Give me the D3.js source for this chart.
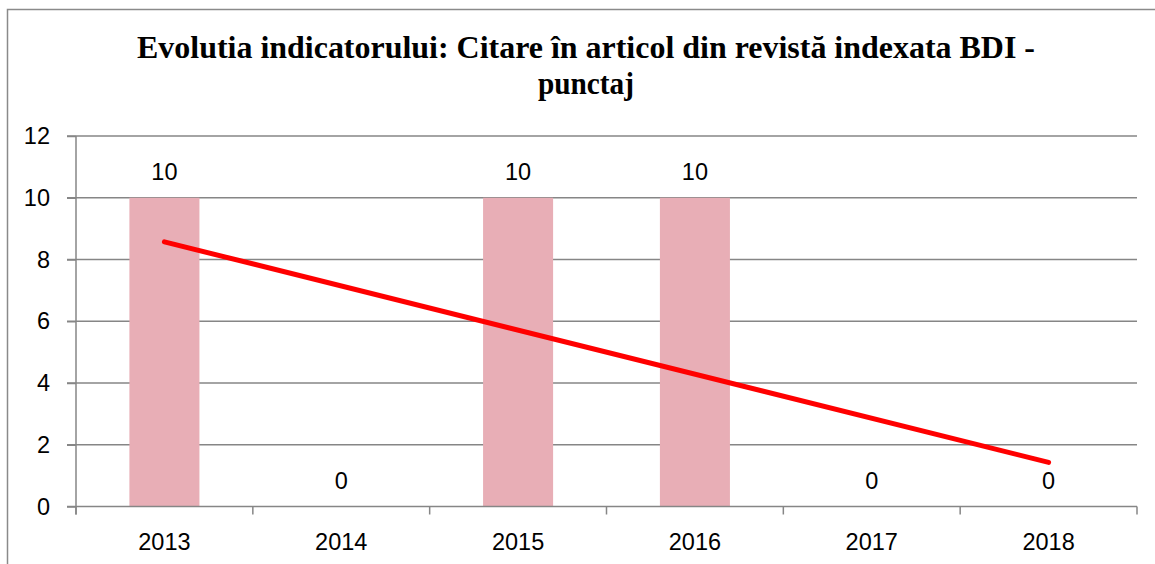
<!doctype html>
<html>
<head>
<meta charset="utf-8" />
<title>Evolutia indicatorului</title>
<script src="https://cdn.jsdelivr.net/npm/d3@7"></script>
<style>
  body { margin: 0; background: #fff; }
  svg { display: block; }
</style>
</head>
<body>
<svg id="chart" width="1155" height="564"></svg>
<script>
// data
var years = ['2013', '2014', '2015', '2016', '2017', '2018'];
var scores = [10, 0, 10, 10, 0, 0];
var yTicks = [0, 2, 4, 6, 8, 10, 12];
var titleLines = ['Evolutia indicatorului: Citare în articol din revistă indexata BDI -', 'punctaj'];

var svg = d3.select('#chart');
var margin = {left: 76, right: 18, top: 136, bottom: 57.5};
var width = 1155 - margin.left - margin.right;
var height = 564 - margin.top - margin.bottom;
var gridColor = '#868686';
var font = '"Liberation Sans", Arial, sans-serif';

// outer chart border (runs off the right / bottom edge like the original)
svg.append('rect')
    .attr('x', 7.5).attr('y', 9.5)
    .attr('width', 1160).attr('height', 570)
    .attr('fill', 'none')
    .attr('stroke', '#8a8a8a')
    .attr('stroke-width', 1.5);

// title
svg.selectAll('text.title')
    .data(titleLines)
    .enter()
    .append('text')
    .attr('class', 'title')
    .attr('x', 586)
    .attr('y', function(d, i) { return 58 + i * 36; })
    .attr('text-anchor', 'middle')
    .attr('font-family', '"Liberation Serif", "Times New Roman", serif')
    .attr('font-weight', 'bold')
    .attr('font-size', 32.5)
    .attr('textLength', function(d, i) { return i === 0 ? 898 : 96; })
    .attr('lengthAdjust', 'spacingAndGlyphs')
    .text(function(d) { return d; });

var g = svg.append('g').attr('transform', 'translate(' + margin.left + ',' + margin.top + ')');

var x = d3.scaleBand().domain(years).range([0, width]).paddingInner(0.604).paddingOuter(0.302);
var xBounds = d3.scaleLinear().domain([0, years.length]).range([0, width]);
var y = d3.scaleLinear().domain([0, 12]).range([height, 0]);

// gridlines
g.selectAll('line.grid')
    .data(yTicks.filter(function(d) { return d > 0; }))
    .enter()
    .append('line')
    .attr('class', 'grid')
    .attr('x1', -9).attr('x2', width)
    .attr('y1', function(d) { return y(d); })
    .attr('y2', function(d) { return y(d); })
    .attr('stroke', gridColor)
    .attr('stroke-width', 1.5);

// y axis
var yAxis = g.append('g')
    .call(d3.axisLeft(y).tickValues(yTicks).tickSize(9).tickPadding(17));
yAxis.select('.domain').attr('stroke', gridColor).attr('stroke-width', 1.5)
    .attr('d', 'M0,' + (height + 8) + 'V0');
yAxis.selectAll('.tick line').attr('stroke', gridColor).attr('stroke-width', 1.5);
yAxis.selectAll('.tick text')
    .attr('font-family', font).attr('font-size', 23.5).attr('fill', '#000');

// bars
g.selectAll('rect.bar')
    .data(scores)
    .enter()
    .append('rect')
    .attr('class', 'bar')
    .attr('x', function(d, i) { return x(years[i]); })
    .attr('width', x.bandwidth())
    .attr('y', function(d) { return y(d); })
    .attr('height', function(d) { return height - y(d); })
    .attr('fill', '#e8aeb6');

// x axis with ticks at category boundaries
var xAxis = g.append('g').attr('transform', 'translate(0,' + height + ')');
xAxis.append('line')
    .attr('x1', -9).attr('x2', width)
    .attr('stroke', gridColor).attr('stroke-width', 1.5);
xAxis.selectAll('line.xtick')
    .data(d3.range(years.length + 1))
    .enter()
    .append('line')
    .attr('class', 'xtick')
    .attr('x1', function(d) { return xBounds(d); })
    .attr('x2', function(d) { return xBounds(d); })
    .attr('y1', 0).attr('y2', 8)
    .attr('stroke', gridColor).attr('stroke-width', 1.5);
xAxis.selectAll('text')
    .data(years)
    .enter()
    .append('text')
    .attr('x', function(d) { return x(d) + x.bandwidth() / 2; })
    .attr('y', 43.5)
    .attr('text-anchor', 'middle')
    .attr('font-family', font).attr('font-size', 23.5)
    .text(function(d) { return d; });

// value labels
g.selectAll('text.val')
    .data(scores)
    .enter()
    .append('text')
    .attr('class', 'val')
    .attr('x', function(d, i) { return x(years[i]) + x.bandwidth() / 2; })
    .attr('y', function(d) { return y(d) - 18; })
    .attr('text-anchor', 'middle')
    .attr('font-family', font).attr('font-size', 23.5)
    .text(function(d) { return d; });

// linear trendline (least squares over the bar values)
var n = scores.length;
var mx = d3.mean(d3.range(1, n + 1));
var my = d3.mean(scores);
var sxy = d3.sum(scores, function(d, i) { return (i + 1 - mx) * (d - my); });
var sxx = d3.sum(d3.range(1, n + 1), function(k) { return (k - mx) * (k - mx); });
var slope = sxy / sxx;
var trend = [1, n].map(function(k) { return {i: k - 1, v: my + slope * (k - mx)}; });

g.append('path')
    .datum(trend)
    .attr('fill', 'none')
    .attr('stroke', '#ff0000')
    .attr('stroke-width', 5)
    .attr('stroke-linecap', 'round')
    .attr('d', d3.line()
        .x(function(d) { return x(years[d.i]) + x.bandwidth() / 2; })
        .y(function(d) { return y(d.v); }));
</script>
</body>
</html>
